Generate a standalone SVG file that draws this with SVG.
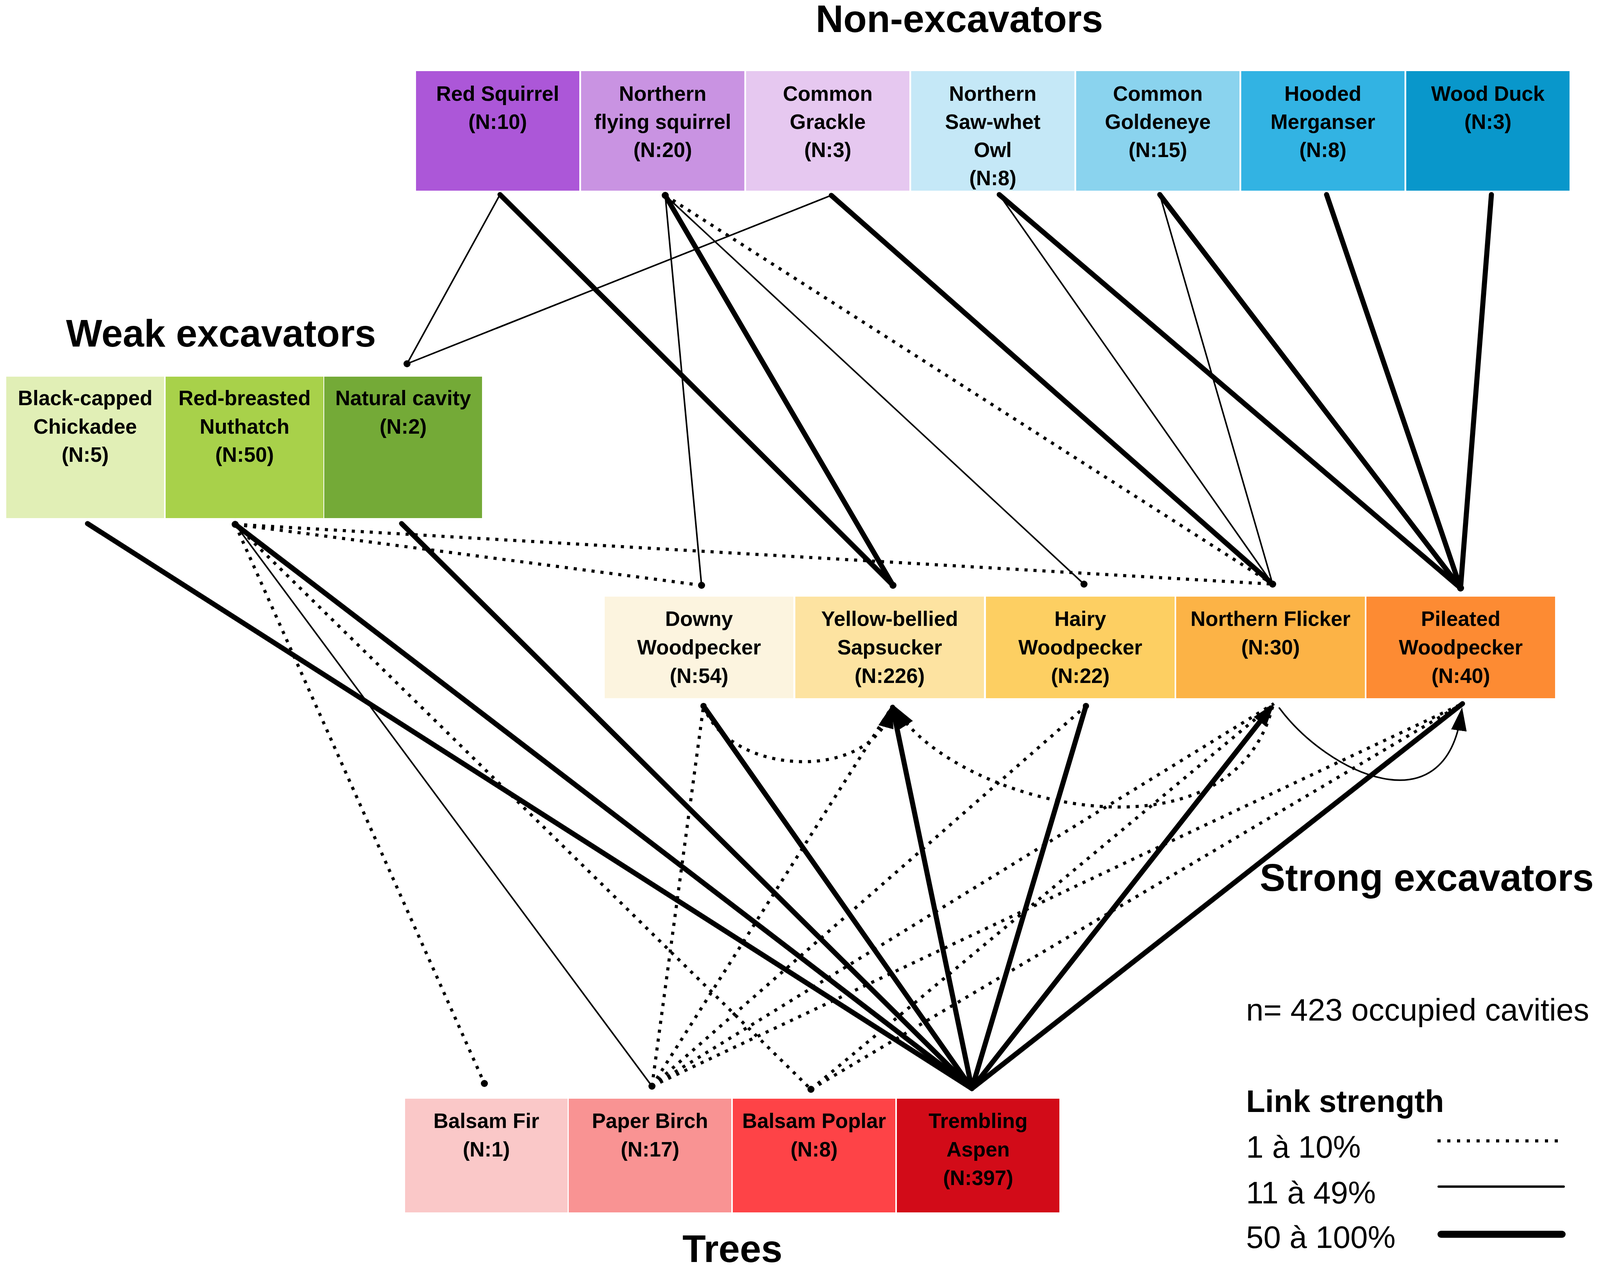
<svg xmlns="http://www.w3.org/2000/svg" width="4328" height="3253" viewBox="0 0 4328 3253">
<style>
text{font-family:"Liberation Sans",Arial,sans-serif;fill:#000}
.n text{font-weight:bold;font-size:53px;text-anchor:middle}
.title{font-weight:bold;font-size:98px}
.leg{font-size:80px}
.thick{stroke:#000;stroke-width:13;stroke-linecap:round;fill:none}
.thin{stroke:#000;stroke-width:4;stroke-linecap:round;fill:none}
.dot{stroke:#000;stroke-width:8;stroke-dasharray:8 15;fill:none}
.end{fill:#000}
</style>
<defs>
<marker id="arr" markerUnits="userSpaceOnUse" markerWidth="60" markerHeight="40" refX="45" refY="20" orient="auto" viewBox="0 0 60 40">
<path d="M0,0 L60,20 L0,40 Z" fill="#000"/>
</marker>
</defs>
<rect width="4328" height="3253" fill="#fff"/>

<text class="title" x="2456" y="82" text-anchor="middle">Non-excavators</text>
<text class="title" x="169" y="887">Weak excavators</text>
<text class="title" x="3225" y="2280" font-size="88">Strong excavators</text>
<text class="title" x="1875" y="3230" text-anchor="middle">Trees</text>

<!-- Non-excavators -->
<g id="red-squirrel" class="n"><rect x="1065" y="182" width="418" height="306" fill="#ac57d8"/><text x="1274" y="258">Red Squirrel</text><text x="1274" y="330">(N:10)</text></g>
<g id="flying-squirrel" class="n"><rect x="1487.5" y="182" width="418" height="306" fill="#c993e2"/><text x="1696.5" y="258">Northern</text><text x="1696.5" y="330">flying squirrel</text><text x="1696.5" y="402">(N:20)</text></g>
<g id="common-grackle" class="n"><rect x="1910" y="182" width="418" height="306" fill="#e6c8f0"/><text x="2119" y="258">Common</text><text x="2119" y="330">Grackle</text><text x="2119" y="402">(N:3)</text></g>
<g id="saw-whet-owl" class="n"><rect x="2332.5" y="182" width="418" height="306" fill="#c5e8f7"/><text x="2541.5" y="258">Northern</text><text x="2541.5" y="330">Saw-whet</text><text x="2541.5" y="402">Owl</text><text x="2541.5" y="474">(N:8)</text></g>
<g id="common-goldeneye" class="n"><rect x="2755" y="182" width="418" height="306" fill="#8ad3ee"/><text x="2964" y="258">Common</text><text x="2964" y="330">Goldeneye</text><text x="2964" y="402">(N:15)</text></g>
<g id="hooded-merganser" class="n"><rect x="3177.5" y="182" width="418" height="306" fill="#32b3e3"/><text x="3386.5" y="258">Hooded</text><text x="3386.5" y="330">Merganser</text><text x="3386.5" y="402">(N:8)</text></g>
<g id="wood-duck" class="n"><rect x="3600" y="182" width="418" height="306" fill="#0997cb"/><text x="3809" y="258">Wood Duck</text><text x="3809" y="330">(N:3)</text></g>

<!-- Weak excavators -->
<g id="chickadee" class="n"><rect x="16" y="964" width="404" height="362" fill="#e1efb6"/><text x="218" y="1037">Black-capped</text><text x="218" y="1110">Chickadee</text><text x="218" y="1182">(N:5)</text></g>
<g id="nuthatch" class="n"><rect x="424" y="964" width="404" height="362" fill="#a8d14a"/><text x="626" y="1037">Red-breasted</text><text x="626" y="1110">Nuthatch</text><text x="626" y="1182">(N:50)</text></g>
<g id="natural-cavity" class="n"><rect x="830" y="964" width="404" height="362" fill="#74aa37"/><text x="1032" y="1037">Natural cavity</text><text x="1032" y="1110">(N:2)</text></g>

<!-- Strong excavators -->
<g id="downy" class="n"><rect x="1548" y="1527" width="483" height="260" fill="#fcf4df"/><text x="1789.5" y="1602">Downy</text><text x="1789.5" y="1675">Woodpecker</text><text x="1789.5" y="1748">(N:54)</text></g>
<g id="sapsucker" class="n"><rect x="2036" y="1527" width="483" height="260" fill="#fde3a1"/><text x="2277.5" y="1602">Yellow-bellied</text><text x="2277.5" y="1675">Sapsucker</text><text x="2277.5" y="1748">(N:226)</text></g>
<g id="hairy" class="n"><rect x="2524" y="1527" width="483" height="260" fill="#fdcf62"/><text x="2765.5" y="1602">Hairy</text><text x="2765.5" y="1675">Woodpecker</text><text x="2765.5" y="1748">(N:22)</text></g>
<g id="flicker" class="n"><rect x="3011" y="1527" width="483" height="260" fill="#fcb346"/><text x="3252.5" y="1602">Northern Flicker</text><text x="3252.5" y="1675">(N:30)</text></g>
<g id="pileated" class="n"><rect x="3498" y="1527" width="483" height="260" fill="#fd8b33"/><text x="3739.5" y="1602">Pileated</text><text x="3739.5" y="1675">Woodpecker</text><text x="3739.5" y="1748">(N:40)</text></g>

<!-- Trees -->
<g id="balsam-fir" class="n"><rect x="1037" y="2812" width="416" height="291" fill="#fac8c8"/><text x="1245" y="2887">Balsam Fir</text><text x="1245" y="2960">(N:1)</text></g>
<g id="paper-birch" class="n"><rect x="1456" y="2812" width="416" height="291" fill="#f99393"/><text x="1664" y="2887">Paper Birch</text><text x="1664" y="2960">(N:17)</text></g>
<g id="balsam-poplar" class="n"><rect x="1876" y="2812" width="416" height="291" fill="#fe4347"/><text x="2084" y="2887">Balsam Poplar</text><text x="2084" y="2960">(N:8)</text></g>
<g id="trembling-aspen" class="n"><rect x="2296" y="2812" width="416" height="291" fill="#d20b18"/><text x="2504" y="2887">Trembling</text><text x="2504" y="2960">Aspen</text><text x="2504" y="3033">(N:397)</text></g>

<g id="connectors">
<!-- non-excavators -->
<line class="thin" x1="1280" y1="498" x2="1042" y2="931"/>
<line class="thick" x1="1280" y1="498" x2="2286" y2="1498"/>
<line class="thin" x1="1703" y1="500" x2="1796" y2="1498"/>
<line class="thick" x1="1703" y1="500" x2="2286" y2="1498"/>
<line class="thin" x1="1703" y1="500" x2="2775" y2="1495"/>
<line class="dot" x1="1703" y1="500" x2="3258" y2="1495"/>
<line class="thin" x1="2128" y1="500" x2="1042" y2="931"/>
<line class="thick" x1="2128" y1="500" x2="3258" y2="1495"/>
<line class="thick" x1="2558" y1="498" x2="3739" y2="1505"/>
<line class="thin" x1="2558" y1="498" x2="3258" y2="1495"/>
<line class="thick" x1="2969" y1="498" x2="3739" y2="1505"/>
<line class="thin" x1="2969" y1="498" x2="3258" y2="1495"/>
<line class="thick" x1="3396" y1="498" x2="3739" y2="1505"/>
<line class="thick" x1="3818" y1="498" x2="3739" y2="1505"/>
<!-- weak excavators -->
<line class="dot" x1="602" y1="1342" x2="1796" y2="1498"/>
<line class="dot" x1="602" y1="1342" x2="3258" y2="1495"/>
<line class="thick" x1="224" y1="1340" x2="2488" y2="2786"/>
<line class="thick" x1="602" y1="1342" x2="2488" y2="2786"/>
<line class="thick" x1="1028" y1="1340" x2="2488" y2="2786"/>
<line class="dot" x1="602" y1="1342" x2="1240" y2="2773"/>
<line class="thin" x1="602" y1="1342" x2="1669" y2="2780"/>
<line class="dot" x1="602" y1="1342" x2="2076" y2="2788"/>
<!-- trees to strong excavators -->
<line class="thick" x1="2488" y1="2786" x2="1801" y2="1807"/>
<line class="thick" x1="2488" y1="2786" x2="2285" y2="1810"/>
<line class="thick" x1="2488" y1="2786" x2="2780" y2="1807"/>
<line class="thick" x1="2488" y1="2786" x2="3253" y2="1812" marker-end="url(#arr)"/>
<line class="thick" x1="2488" y1="2786" x2="3744" y2="1801"/>
<line class="dot" x1="1669" y1="2780" x2="1801" y2="1807"/>
<line class="dot" x1="1669" y1="2780" x2="2285" y2="1807"/>
<line class="dot" x1="1669" y1="2780" x2="2780" y2="1807"/>
<line class="dot" x1="1669" y1="2780" x2="3261" y2="1801"/>
<line class="dot" x1="1669" y1="2780" x2="3744" y2="1801"/>
<line class="dot" x1="2076" y1="2788" x2="3261" y2="1801"/>
<line class="dot" x1="2076" y1="2788" x2="3744" y2="1801"/>
<!-- among strong excavators -->
<path class="dot" d="M1801,1807 C1870,1990 2230,2000 2280,1818" marker-end="url(#arr)"/>
<path class="dot" d="M3258,1808 C3150,2230 2450,2060 2296,1818" marker-end="url(#arr)"/>
<path class="thin" d="M3275,1812 C3400,1980 3700,2120 3741,1825" marker-end="url(#arr)"/>
<!-- endpoint dots -->
<circle class="end" cx="1042" cy="931" r="9"/>
<circle class="end" cx="1796" cy="1498" r="9"/>
<circle class="end" cx="2286" cy="1498" r="9"/>
<circle class="end" cx="2775" cy="1495" r="9"/>
<circle class="end" cx="3258" cy="1495" r="9"/>
<circle class="end" cx="3739" cy="1505" r="9"/>
<circle class="end" cx="1240" cy="2773" r="9"/>
<circle class="end" cx="1669" cy="2780" r="9"/>
<circle class="end" cx="2076" cy="2788" r="9"/>
<circle class="end" cx="602" cy="1342" r="9"/>
<circle class="end" cx="1703" cy="500" r="9"/>
<circle class="end" cx="1801" cy="1807" r="8"/>
<circle class="end" cx="2780" cy="1807" r="8"/>
</g>

<g id="legend">
<text class="leg" x="3190" y="2612">n= 423 occupied cavities</text>
<text class="leg" x="3190" y="2846" font-weight="bold" font-size="80">Link strength</text>
<text class="leg" x="3190" y="2963">1 à 10%</text>
<text class="leg" x="3190" y="3080">11 à 49%</text>
<text class="leg" x="3190" y="3194">50 à 100%</text>
<line x1="3680" y1="2920" x2="4005" y2="2920" stroke="#000" stroke-width="8" stroke-dasharray="8 17"/>
<line x1="3683" y1="3037" x2="4003" y2="3037" stroke="#000" stroke-width="6" stroke-linecap="round"/>
<line x1="3689" y1="3159" x2="3999" y2="3159" stroke="#000" stroke-width="18" stroke-linecap="round"/>
</g>
</svg>
